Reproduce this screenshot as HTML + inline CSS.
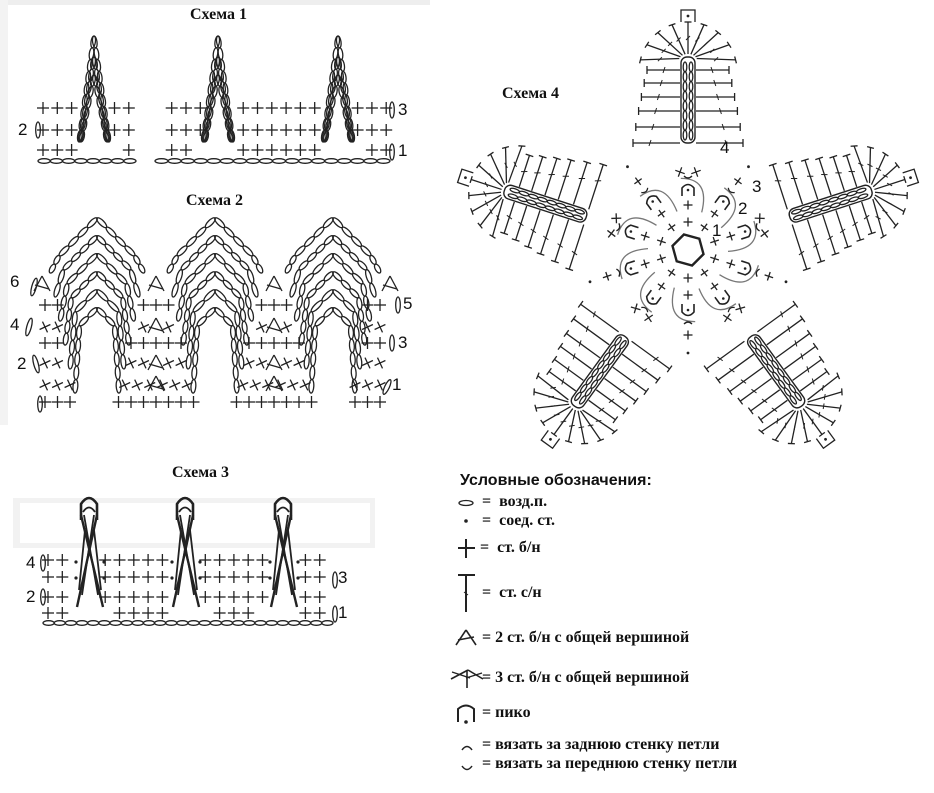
<!DOCTYPE html>
<html><head><meta charset="utf-8">
<style>
html,body{margin:0;padding:0;background:#fff}
#w{position:relative;width:934px;height:793px;overflow:hidden;background:#fff}
svg{position:absolute;left:0;top:0}
.t{position:absolute;font-family:"Liberation Serif",serif;font-weight:bold;font-size:16px;color:#111;white-space:nowrap}
.n{position:absolute;font-family:"Liberation Sans",sans-serif;font-size:17px;color:#111}
.lg{position:absolute;font-family:"Liberation Serif",serif;font-weight:bold;font-size:16px;color:#111;white-space:nowrap}
</style></head><body>
<div id="w">
<svg id="s" width="934" height="793" viewBox="0 0 934 793" xmlns="http://www.w3.org/2000/svg">
<rect x="0" y="0" width="430" height="5" fill="#eee"/>
<rect x="0" y="0" width="8" height="425" fill="#f3f3f3"/>
<rect x="13" y="498" width="362" height="50" fill="#f2f2f2"/>
<rect x="20" y="503" width="350" height="40" fill="#fff"/>
<g id="g" stroke="#222" fill="none" stroke-width="1.3"></g>
</svg>
<div class="t" style="left:190px;top:6px">Схема 1</div>
<div class="t" style="left:186px;top:192px">Схема 2</div>
<div class="t" style="left:172px;top:464px">Схема 3</div>
<div class="t" style="left:502px;top:85px">Схема 4</div>
<div class="n" style="left:18px;top:120px">2</div>
<div class="n" style="left:398px;top:100px">3</div>
<div class="n" style="left:398px;top:141px">1</div>
<div class="n" style="left:10px;top:272px">6</div>
<div class="n" style="left:10px;top:315px">4</div>
<div class="n" style="left:17px;top:354px">2</div>
<div class="n" style="left:403px;top:294px">5</div>
<div class="n" style="left:398px;top:333px">3</div>
<div class="n" style="left:392px;top:375px">1</div>
<div class="n" style="left:26px;top:553px">4</div>
<div class="n" style="left:26px;top:587px">2</div>
<div class="n" style="left:338px;top:568px">3</div>
<div class="n" style="left:338px;top:603px">1</div>
<div class="n" style="left:720px;top:138px">4</div>
<div class="n" style="left:752px;top:177px">3</div>
<div class="n" style="left:738px;top:199px">2</div>
<div class="n" style="left:712px;top:221px">1</div>
<div style="position:absolute;left:460px;top:472px;font-family:'Liberation Sans',sans-serif;font-weight:bold;font-size:16px;color:#111">Условные обозначения:</div>
<div class="lg" style="left:482px;top:493px">=&nbsp; возд.п.</div>
<div class="lg" style="left:482px;top:512px">=&nbsp; соед. ст.</div>
<div class="lg" style="left:480px;top:539px">=&nbsp; ст. б/н</div>
<div class="lg" style="left:482px;top:584px">=&nbsp; ст. с/н</div>
<div class="lg" style="left:482px;top:629px">= 2 ст. б/н с общей вершиной</div>
<div class="lg" style="left:482px;top:669px">= 3 ст. б/н с общей вершиной</div>
<div class="lg" style="left:482px;top:704px">= пико</div>
<div class="lg" style="left:482px;top:736px">= вязать за заднюю стенку петли</div>
<div class="lg" style="left:482px;top:755px">= вязать за переднюю стенку петли</div>
</div>
<script>
var G=document.getElementById('g'),h='';
function L(a,b,c,d,w,col){h+='<line x1="'+a.toFixed(1)+'" y1="'+b.toFixed(1)+'" x2="'+c.toFixed(1)+'" y2="'+d.toFixed(1)+'"'+(w?' stroke-width="'+w+'"':'')+(col?' stroke="'+col+'"':'')+'/>';}
function E(x,y,rx,ry,ang){h+='<ellipse cx="'+x.toFixed(1)+'" cy="'+y.toFixed(1)+'" rx="'+(+rx).toFixed(1)+'" ry="'+ry+'" transform="rotate('+ang.toFixed(1)+' '+x.toFixed(1)+' '+y.toFixed(1)+')"/>';}
function P(x,y,s,rot){s=s||6;rot=rot||0;var r=rot*Math.PI/180,c=Math.cos(r),si=Math.sin(r);L(x-s*c,y-s*si,x+s*c,y+s*si);L(x+s*si,y-s*c,x-s*si,y+s*c);}
function CH(x1,y1,x2,y2,n,ry){ry=ry||2.2;var dx=(x2-x1)/n,dy=(y2-y1)/n,len=Math.sqrt(dx*dx+dy*dy),a=Math.atan2(dy,dx)*180/Math.PI;for(var i=0;i<n;i++)E(x1+dx*(i+.5),y1+dy*(i+.5),len/2,ry,a);}
function D(x,y,r){h+='<circle cx="'+x+'" cy="'+y+'" r="'+(r||1.6)+'" fill="#222" stroke="none"/>';}
/* Схема 1 */
var sp1=[94,218,338];
[[108,16],[130,16],[150,22]].forEach(function(r){for(var x=43;x<=392;x+=14.3){if(x>137&&x<158)continue;var sk=false;sp1.forEach(function(c){if(Math.abs(x-c)<r[1])sk=true});if(!sk)P(x,r[0],6);}});
CH(38,161,136,161,8,2.3);CH(155,161,390,161,18,2.3);
sp1.forEach(function(c){[[36,15],[57,14],[75,13]].forEach(function(k){var n=Math.round((142-k[0])/12);CH(c,k[0],c-k[1],142,n,2.2);CH(c,k[0],c+k[1],142,n,2.2);});});
E(38,130,2.3,8,0);E(392,110,2.3,8,0);E(392,152,2.3,8,0);
/* Схема 2 */
var sp2=[97,215,333];
sp2.forEach(function(c){for(var k=0;k<6;k++){var ay=218+k*18,he=47-k*5,ey=273+k*24,hm=he*0.8,my=ay+hm;
 var n1=Math.max(2,Math.round(hm*1.41/13));CH(c,ay,c-hm,my,n1,2.4);CH(c,ay,c+hm,my,n1,2.4);
 if(ey-my>6){var dl=Math.sqrt((he-hm)*(he-hm)+(ey-my)*(ey-my));var n2=Math.max(1,Math.round(dl/13));CH(c-hm,my,c-he,ey,n2,2.4);CH(c+hm,my,c+he,ey,n2,2.4);}}});
var mids=[156,274],SP=12.5;
function row2(y,mc,ec,rot,triMid){mids.forEach(function(m){for(var j=0;j<mc;j++){var x=m+(j-(mc-1)/2)*SP;if(triMid&&Math.abs(x-m)<3){continue;}P(x,y,6,rot);}});
 for(var j=0;j<ec;j++){P(45+j*SP,y,6,rot);P(380-j*SP,y,6,rot);}}
function tri(x,y){L(x-8,y+8,x,y-7);L(x,y-7,x+8,y+8);L(x-7,y+2,x+7,y+6);}
row2(402,7,3,0);row2(385,6,3,-25);row2(363,5,2,-25,true);row2(343,5,2,0);row2(327,3,2,-25,true);row2(305,3,2,0);
[42,156,274,390].forEach(function(x){tri(x,283)});
mids.forEach(function(x){tri(x,325);tri(x,362);tri(x,383)});
E(40,404,2.3,8,0);E(34,287,2.3,9,15);E(29,327,2.3,9,15);E(36,364,2.3,9,-15);E(398,305,2.3,8,0);E(392,343,2.3,8,0);E(387,387,2.3,8,25);
/* Схема 3 */
var sp3=[89,185,283];
[[560,16],[577,16],[597,16],[613,22]].forEach(function(r,i){for(var x=48;x<=332;x+=14.3){var sk=false;sp3.forEach(function(c){if(Math.abs(x-c)<r[1])sk=true});if(!sk)P(x,r[0],6);}});
CH(43,623,333,623,26,2.3);
sp3.forEach(function(c){h+='<path d="M'+(c-8)+' 520 L'+(c-8)+' 504 Q'+c+' 492 '+(c+8)+' 504 L'+(c+8)+' 520" stroke-width="2.6"/>';
h+='<path d="M'+(c-6)+' 512 Q'+c+' 503 '+(c+6)+' 512" stroke-width="1.8"/>';
L(c-8,515,c+14,607,2.4);L(c+8,515,c-12,607,2.4);L(c-5,515,c+9,595,1.8);L(c+5,515,c-7,595,1.8);L(c-10,590,c-4,530,1.8);L(c+12,590,c+5,530,1.8);D(c-13,562,1.6);D(c+15,562,1.6);D(c-13,578,1.6);D(c+15,578,1.6);});
E(43,563,2.3,8,0);E(43,597,2.3,8,0);E(335,580,2.3,8,0);E(335,614,2.3,8,0);
/* Схема 4 */
var CX=688,CY=250;
var ph='';
(function(){var o=h;h='';
 [143,127,111,97,83,70].forEach(function(y,i){var xo=633+i*2.8,xr=743-i*2.8;L(xo,y,680,y);L(696,y,xr,y);L(xo,y-4,xo,y+4);L(xr,y-4,xr,y+4);L(xo+18,y-3,xo+16,y+3,1);L(xr-18,y-3,xr-16,y+3,1);});
 for(var a=-76;a<=76;a+=19){var r=a*Math.PI/180,s=Math.sin(r),c=Math.cos(r);var x1=CX+9*s,y1=60-6*c,x2=CX+49*s,y2=72-50*c;L(x1,y1,x2,y2);L(x2-3.5*c,y2-3.5*s,x2+3.5*c,y2+3.5*s);L((x1+x2)/2-2,(y1+y2)/2+2,(x1+x2)/2+2,(y1+y2)/2-2,1);}
 h+='<rect x="681" y="57" width="14" height="86" rx="6" stroke-width="1.4"/>';
 CH(685,62,685,140,8,1.8);CH(691,62,691,140,8,1.8);
 h+='<path d="M681 22 L681 10 L695 10 L695 22" stroke-width="1.3"/>';D(688,16,1.4);
 P(680,172,5,20);P(696,172,5,-20);
 ph=h;h=o;})();
for(var k=0;k<5;k++)h+='<g transform="rotate('+(k*72)+' '+CX+' '+CY+')">'+ph+'</g>';
var hp='';for(var i=0;i<6;i++){var a=(i*60+15)*Math.PI/180;hp+=(i?'L':'M')+(CX+16*Math.cos(a)).toFixed(1)+' '+(CY+16*Math.sin(a)).toFixed(1);}
h+='<path d="'+hp+'Z" stroke-width="2.4"/>';
for(var k=0;k<10;k++){var ang=k*36,r=(ang-90)*Math.PI/180,c=Math.cos(r),s=Math.sin(r);
 P(CX+28*c,CY+28*s,4.5,ang);P(CX+45*c,CY+45*s,4.5,ang);
 var px=CX+60*c,py=CY+60*s;h+='<g transform="rotate('+ang+' '+px.toFixed(1)+' '+py.toFixed(1)+')"><path d="M'+(px-6).toFixed(1)+' '+(py+6).toFixed(1)+' L'+(px-6).toFixed(1)+' '+(py-2).toFixed(1)+' Q'+px.toFixed(1)+' '+(py-9).toFixed(1)+' '+(px+6).toFixed(1)+' '+(py-2).toFixed(1)+' L'+(px+6).toFixed(1)+' '+(py+6).toFixed(1)+'" stroke-width="1.6"/></g>';
 D((px).toFixed(1),(py).toFixed(1),1.3);
 var r2=r+0.35;h+='<path d="M'+(CX+40*Math.cos(r2)).toFixed(1)+' '+(CY+40*Math.sin(r2)).toFixed(1)+' Q'+(CX+75*Math.cos(r+0.3)).toFixed(1)+' '+(CY+75*Math.sin(r+0.3)).toFixed(1)+' '+(CX+72*Math.cos(r-0.1)).toFixed(1)+' '+(CY+72*Math.sin(r-0.1)).toFixed(1)+'" stroke="#777" stroke-width="1.3"/>';
 if(k%2==1){P(CX+85*c,CY+85*s,4.5,ang);D((CX+103*c).toFixed(1),(CY+103*s).toFixed(1),1.4);}
 h+='<path d="M'+(CX+74*c-4*s).toFixed(1)+' '+(CY+74*s+4*c).toFixed(1)+' Q'+(CX+70*c).toFixed(1)+' '+(CY+70*s).toFixed(1)+' '+(CX+74*c+4*s).toFixed(1)+' '+(CY+74*s-4*c).toFixed(1)+'"/>';
}
/* legend icons */
E(466,503,7,2.5,0);D(466,521,1.8);
L(458,548,475,548,2);L(466,539,466,558,2);
L(458,575,475,575,2);L(466,575,466,612,2);L(464,592,468,595,1);
L(456,645,466,630,1.6);L(466,630,476,645,1.6);L(458,640,474,637,1.4);
L(451,679,468,670,1.6);L(468,670,483,679,1.6);L(467,671,467,688,1.6);L(452,672,470,678,1.3);L(466,678,482,673,1.3);
h+='<path d="M458 722 L458 709 Q466 702 474 709 L474 722" stroke-width="2"/>';D(466,722,1.8);
h+='<path d="M462 750 Q467 743 472 750" stroke-width="1.5"/><path d="M462 766 Q467 773 472 766" stroke-width="1.5"/>';
G.innerHTML=h;
</script>
</body></html>
